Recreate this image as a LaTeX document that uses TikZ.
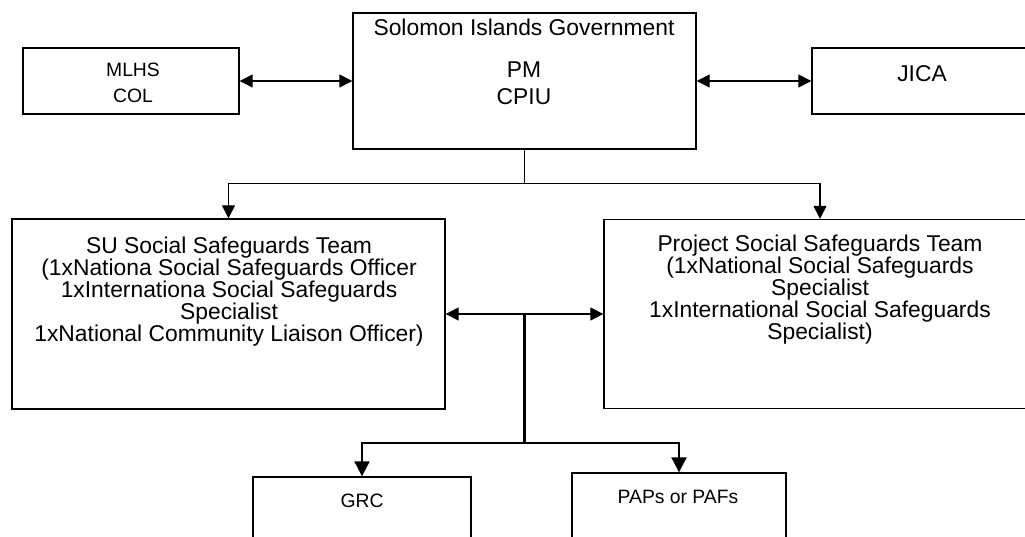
\documentclass[tikz,border=0pt]{standalone}
\usepackage{fontspec}
\setmainfont{Liberation Sans}
\usetikzlibrary{arrows.meta,calc}

\tikzset{
  box/.style={draw, line width=0.8pt, inner sep=0pt},
  txt/.style={anchor=north, inner sep=0pt, align=center},
  bigtxt/.style={txt, font=\fontsize{13}{12.5}\selectfont},
  smalltxt/.style={txt, font=\fontsize{11}{14.7}\selectfont},
  link/.style={line width=0.7pt, -{Triangle[length=0.26cm,width=0.26cm]}},
  twoway/.style={line width=0.7pt, {Triangle[length=0.26cm,width=0.26cm]}-{Triangle[length=0.26cm,width=0.26cm]}},
  trunk/.style={line width=1.8pt},
  fork/.style={line width=1.2pt, -{Triangle[length=0.3cm,width=0.3cm]}}
}

\begin{document}
\begin{tikzpicture}[x=0.02cm, y=-0.02cm]
			%%%%% START %%%%%
			\useasboundingbox (0,0) rectangle (1025,537);
			\clip (0,0) rectangle (1025,537);
			
			\node[box, minimum width=4.32cm, minimum height=1.32cm] (mlhs) at (131,81) {};
			\node[box, minimum width=6.86cm, minimum height=2.72cm] (gov) at (524.5,81) {};
			\node[box, minimum width=4.56cm, minimum height=1.32cm] (jica) at (926,81) {};
			
			\node[smalltxt] (mlhstext) at (133,63) {MLHS\\COL};
			\node[txt, font=\fontsize{13}{15.3}\selectfont] (govtext) at (524,19) {Solomon Islands Government\\[8.3pt]PM\\CPIU};
			\node[bigtxt] (jicatext) at (922,65) {JICA};
			
			\draw[twoway] (mlhs) -- (gov);
			\draw[twoway] (gov) -- (jica);
			
			\node[box, minimum width=8.66cm, minimum height=3.8cm] (su) at (228.5,314) {};
			\node[box, minimum width=8.64cm, minimum height=3.78cm] (proj) at (820,314) {};
			
			\node[bigtxt] (sutext) at (229,237) {SU Social Safeguards Team\\(1xNationa Social Safeguards Officer\\1xInternationa Social Safeguards\\Specialist\\1xNational Community Liaison Officer)};
			\node[bigtxt] (projtext) at (820,235) {Project Social Safeguards Team\\(1xNational Social Safeguards\\Specialist\\1xInternational Social Safeguards\\Specialist)};
			
			\path (gov.south) -- ++(0,34) coordinate (split);
			\draw[line width=0.7pt] (gov.south) -- (split);
			\draw[link] (split) -| (su.north);
			\draw[link] (split) -| (proj.north);
			
			\draw[twoway] (su.east) -- (proj.west);
			
			\coordinate (hub) at ($(su.east)!0.5!(proj.west)$);
			\path (hub) -- ++(0,129) coordinate (forkpt);
			\draw[trunk] (hub) -- (forkpt);
			
			\node[box, minimum width=4.36cm, minimum height=1.66cm] (grc) at (362,518.5) {};
			\node[box, minimum width=4.28cm, minimum height=1.74cm] (paps) at (679,516.5) {};
			
			\node[smalltxt] (grctext) at (362,494) {GRC};
			\node[smalltxt] (papstext) at (678,490) {PAPs or PAFs};
			
			\draw[fork] (forkpt) -| (grc.north);
			\draw[fork] (forkpt) -| (paps.north);
			%%%%% END %%%%%
		\end{tikzpicture}
\end{document}
